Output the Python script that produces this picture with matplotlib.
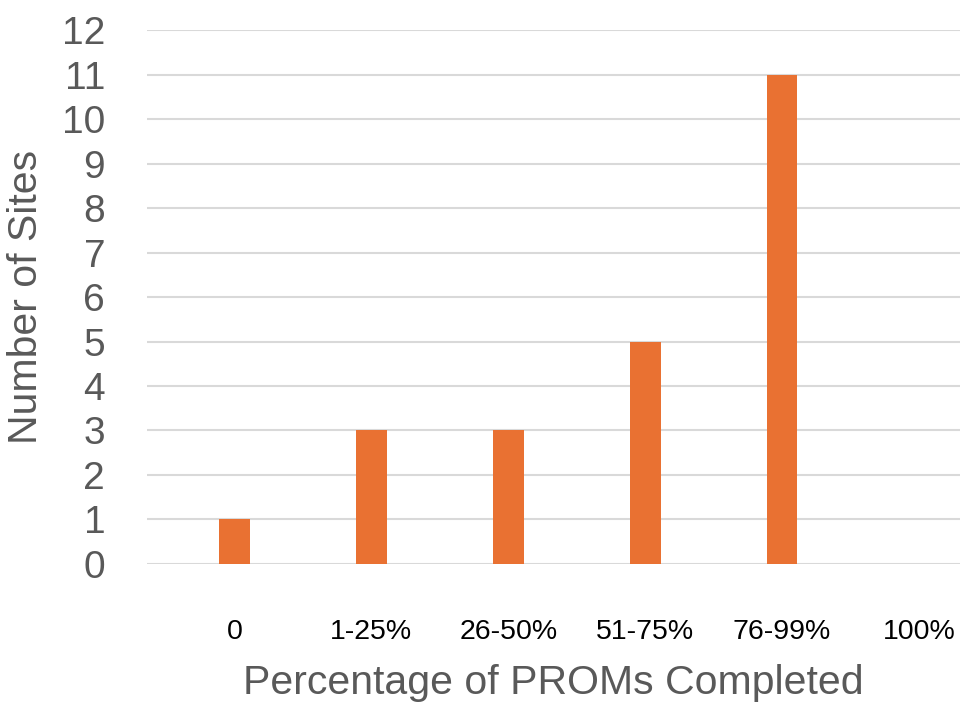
import matplotlib
matplotlib.use("Agg")
import matplotlib.pyplot as plt

categories = ["0", "1-25%", "26-50%", "51-75%", "76-99%", "100%"]
sites = [1, 3, 3, 5, 11, 0]
y_ticks = list(range(0, 13))

plt.rcParams["font.family"] = ["Liberation Sans", "DejaVu Sans"]

fig = plt.figure(figsize=(9.6, 7.04), dpi=100)
ax = fig.add_axes([0.153, 0.199, 0.847, 0.758])

x = list(range(len(categories)))
ax.bar(x, sites, width=0.225, color="#E97132", zorder=3)

ax.set_xlim(-0.64, 5.3)
ax.set_ylim(0, 12)
ax.set_yticks(y_ticks)
ax.set_yticklabels([str(t) for t in y_ticks], fontsize=28, color="#595959")
ax.set_xticks(x)
ax.set_xticklabels(categories, fontsize=20.5, color="#000000")

ax.tick_params(axis="both", length=0)
ax.tick_params(axis="y", pad=30)
ax.tick_params(axis="x", pad=40)

ax.grid(axis="y", color="#D9D9D9", linewidth=1.5, zorder=0)
ax.set_axisbelow(True)
for s in ax.spines.values():
    s.set_visible(False)

ax.set_ylabel("Number of Sites", fontsize=29.5, color="#595959", labelpad=12)
ax.set_xlabel("Percentage of PROMs Completed", fontsize=29.5, color="#595959", labelpad=13)

fig.savefig("out.png", dpi=100, facecolor="white")
